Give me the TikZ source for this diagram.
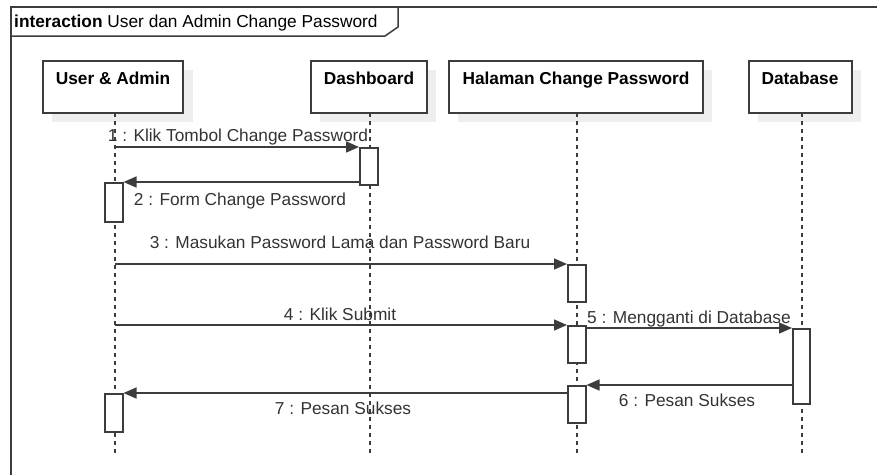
\documentclass[tikz,border=0pt]{standalone}
\usepackage{fontspec}
\setmainfont{Liberation Sans}
\usetikzlibrary{arrows.meta}
\definecolor{lc}{HTML}{3C3C3C}
\definecolor{tc}{HTML}{333333}
\definecolor{sh}{HTML}{EEEEEE}
\tikzset{
  fnt/.style={font=\fontsize{17.3}{20}\selectfont},
  lbl/.style={fnt, text=tc, inner sep=0pt, anchor=base},
  head/.style={fnt, font=\fontsize{17.3}{20}\selectfont\bfseries, text=black, inner sep=0pt, anchor=base},
  lifebox/.style={draw=lc, line width=1.5pt, fill=white},
  actbox/.style={draw=lc, line width=1.5pt, fill=white},
  lifeline/.style={draw=lc, line width=1.5pt, dash pattern=on 4pt off 4pt},
  msg/.style={draw=lc, line width=1.5pt, -{Triangle[length=13pt,width=11pt]}},
}
\begin{document}
\begin{tikzpicture}[x=1pt,y=-1pt]
\useasboundingbox (0,0) rectangle (877,474);
\begin{scope}
\clip (0,0) rectangle (877,474);
% frame
\draw[lc, line width=1.5pt] (11,480) -- (11,7) -- (890,7);
\draw[lc, line width=1.5pt] (11,36) -- (385,36) -- (398,27) -- (398,7);
\end{scope}
\node[fnt, inner sep=0pt, anchor=base west, text=black] (title) at (14,27) {\textbf{interaction} User dan Admin Change Password};

% shadows
\fill[sh] (52,70) rectangle (193,122);
\fill[sh] (320,70) rectangle (436,122);
\fill[sh] (458,70) rectangle (712,122);
\fill[sh] (758,70) rectangle (861,122);

% lifelines
\coordinate (uT) at (115,113); \coordinate (uB) at (115,455);
\coordinate (dT) at (370,113); \coordinate (dB) at (370,455);
\coordinate (hT) at (577,113); \coordinate (hB) at (577,455);
\coordinate (bT) at (802,113); \coordinate (bB) at (802,455);
\draw[lifeline] (uT) -- (uB);
\draw[lifeline] (dT) -- (dB);
\draw[lifeline] (hT) -- (hB);
\draw[lifeline] (bT) -- (bB);

% lifeline boxes
\draw[lifebox] (43,61) rectangle (183,113);
\draw[lifebox] (311,61) rectangle (427,113);
\draw[lifebox] (449,61) rectangle (703,113);
\draw[lifebox] (749,61) rectangle (852,113);
\node[head] (hu) at (113,84) {User \& Admin};
\node[head] (hd) at (369,84) {Dashboard};
\node[head] (hh) at (576,84) {Halaman Change Password};
\node[head] (hb) at (800,84) {Database};

% activation boxes
\node[actbox, minimum width=18pt, minimum height=37pt, inner sep=0pt, anchor=north west] (a1) at (359,147) {};
\node[actbox, minimum width=18pt, minimum height=39pt, inner sep=0pt, anchor=north west] (a2) at (104,182) {};
\node[actbox, minimum width=18pt, minimum height=37pt, inner sep=0pt, anchor=north west] (a3) at (567,264) {};
\node[actbox, minimum width=18pt, minimum height=37pt, inner sep=0pt, anchor=north west] (a4) at (567,325) {};
\node[actbox, minimum width=17pt, minimum height=75pt, inner sep=0pt, anchor=north west] (a5) at (792,328) {};
\node[actbox, minimum width=18pt, minimum height=37pt, inner sep=0pt, anchor=north west] (a6) at (567,385) {};
\node[actbox, minimum width=18pt, minimum height=38pt, inner sep=0pt, anchor=north west] (a7) at (104,393) {};

% messages
\coordinate (m1s) at (115,147);
\draw[msg] (m1s) -- (a1.north west);
\draw[msg] (a1.west |- a2.north) -- (a2.north east);
\coordinate (m3s) at (115,264);
\draw[msg] (m3s) -- (a3.north west);
\coordinate (m4s) at (115,325);
\draw[msg] (m4s) -- (a4.north west);
\draw[msg] (a4.east |- a5.north) -- (a5.north west);
\draw[msg] (a5.west |- a6.north) -- (a6.north east);
\draw[msg] (a6.west |- a7.north) -- (a7.north east);

% labels
\node[lbl] (l1) at (238,141) {1 : Klik Tombol Change Password};
\node[lbl] (l2) at (240,205) {2 : Form Change Password};
\node[lbl] (l3) at (340,248) {3 : Masukan Password Lama dan Password Baru};
\node[lbl] (l4) at (340,320) {4 : Klik Submit};
\node[lbl] (l5) at (689,323) {5 : Mengganti di Database};
\node[lbl] (l6) at (687,406) {6 : Pesan Sukses};
\node[lbl] (l7) at (343,414) {7 : Pesan Sukses};
\end{tikzpicture}
\end{document}
